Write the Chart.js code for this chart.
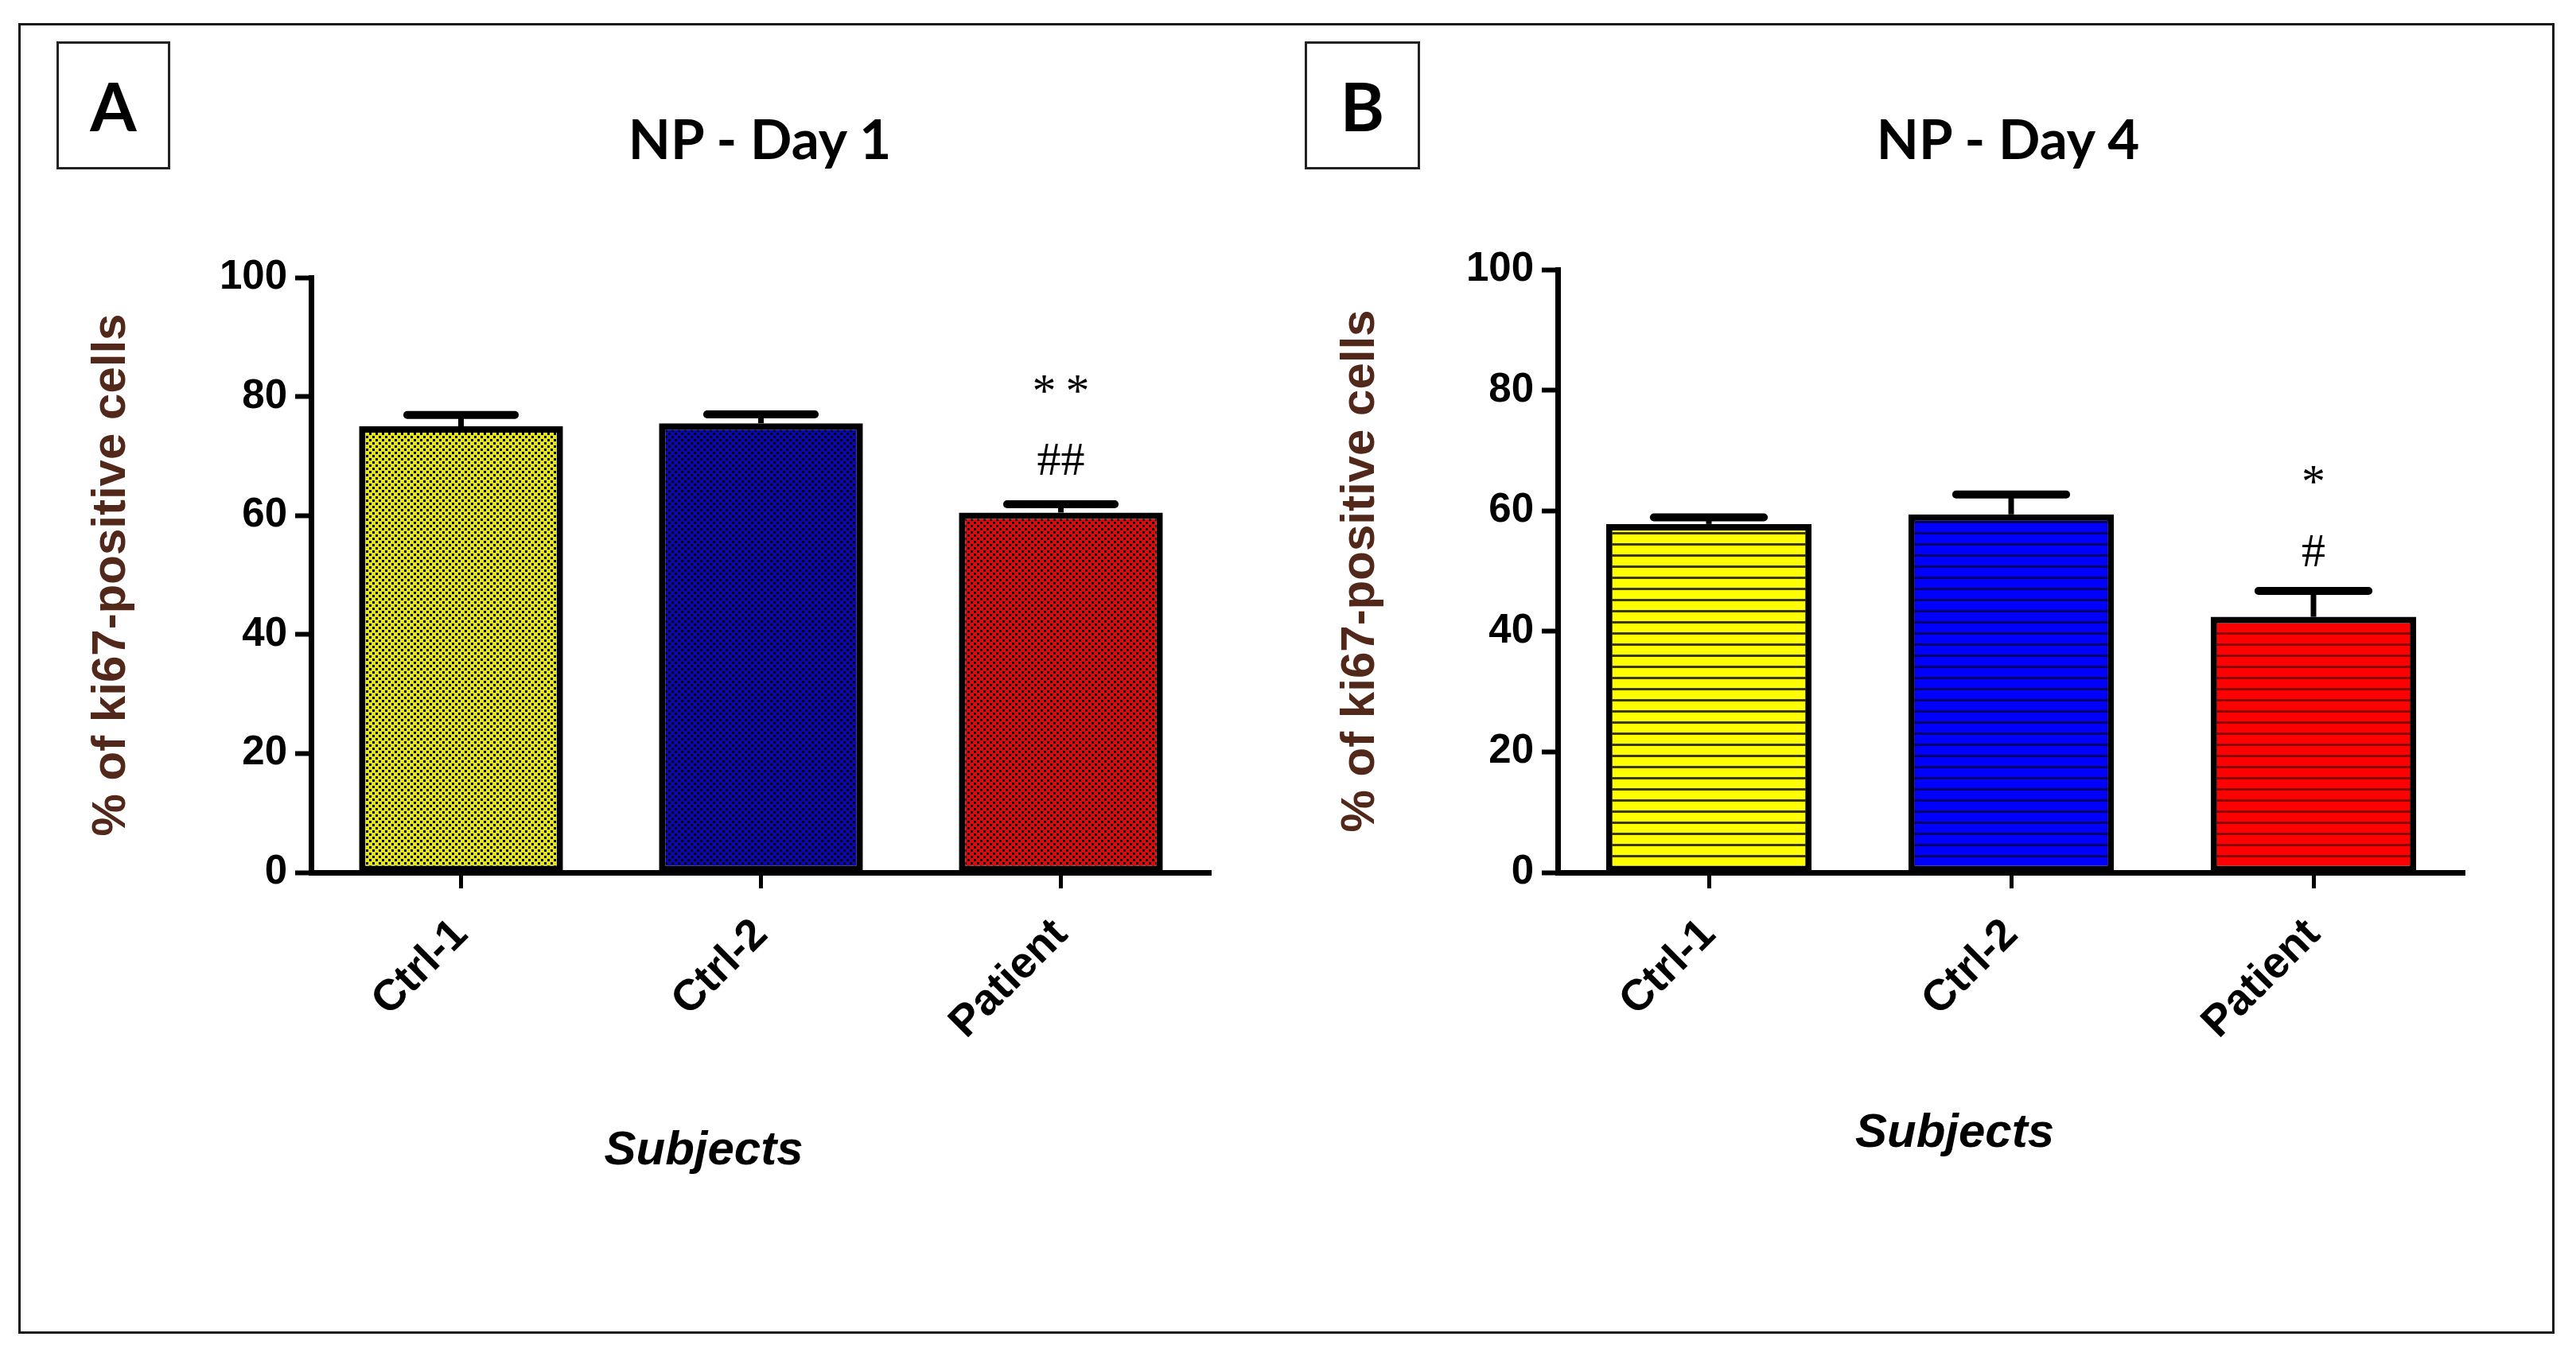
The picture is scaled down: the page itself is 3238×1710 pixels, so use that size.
<!DOCTYPE html>
<html>
<head>
<meta charset="utf-8">
<script src="https://cdn.jsdelivr.net/npm/chart.js@4.4.1/dist/chart.umd.min.js"></script>
<style>
  html, body { margin:0; padding:0; background:#fff; }
  body { width:3238px; height:1710px; position:relative; overflow:hidden; }
  #frame { position:absolute; left:23px; top:29px; width:3182px; height:1642px; border:3px solid #1a1a1a; }
  .letter { position:absolute; top:52px; height:155px; border:3px solid #222; box-sizing:content-box;
            font-family:Lato, 'Open Sans', sans-serif; font-weight:700; font-size:84px; color:#000;
            display:flex; align-items:center; justify-content:center; }
  .ptitle { position:absolute; top:173px; transform:translate(-50%,-50%); white-space:nowrap;
            font-family:Lato, 'Open Sans', sans-serif; font-weight:700; font-size:69px; line-height:1; color:#000; }
  canvas { position:absolute; top:0; }
</style>
</head>
<body>
<div id="frame"></div>
<div class="letter" style="left:71px;width:137px;">A</div>
<div class="letter" style="left:1640px;width:139px;">B</div>
<div class="ptitle" style="left:955px;">NP - Day 1</div>
<div class="ptitle" style="left:2524px;">NP - Day 4</div>
<canvas id="chartA" width="1619" height="1710" style="left:0px;"></canvas>
<canvas id="chartB" width="1619" height="1710" style="left:1619px;"></canvas>
<script>
// ---------------- data ----------------
const categories = ['Ctrl-1', 'Ctrl-2', 'Patient'];
const yTickValues = [0, 20, 40, 60, 80, 100];

const day1Means = [75.0, 75.5, 60.5];
const day1Sem   = [1.9, 1.5, 1.4];
const day1StarText = ['', '', '**'];
const day1StarY    = [null, null, 82.1];
const day1HashText = ['', '', '##'];
const day1HashY    = [null, null, 69.4];

const day4Means = [57.8, 59.4, 42.4];
const day4Sem   = [1.1, 3.3, 4.3];
const day4StarText = ['', '', '*'];
const day4StarY    = [null, null, 66.0];
const day4HashText = ['', '', '#'];
const day4HashY    = [null, null, 53.4];

const yAxisTitle = '% of ki67-positive cells';
const xAxisTitle = 'Subjects';

// ---------------- patterns ----------------
function checkerPattern(color) {
  const c = document.createElement('canvas'); c.width = 8; c.height = 8;
  const g = c.getContext('2d');
  g.fillStyle = color; g.fillRect(0, 0, 8, 8);
  g.fillStyle = '#000';
  g.fillRect(0, 0, 3, 3); g.fillRect(4, 4, 3, 3);
  return g.createPattern(c, 'repeat');
}
function stripePattern(color, line) {
  const c = document.createElement('canvas'); c.width = 8; c.height = 14;
  const g = c.getContext('2d');
  g.fillStyle = color; g.fillRect(0, 0, 8, 14);
  g.fillStyle = line; g.fillRect(0, 11, 8, 3);
  return g.createPattern(c, 'repeat');
}
const fillsA = [checkerPattern('#e6e610'), checkerPattern('#0808b0'), checkerPattern('#e00808')];
const fillsB = [stripePattern('#ffff00', '#3a3a00'), stripePattern('#0000ff', '#00006a'), stripePattern('#ff0000', '#8a0000')];

// ---------------- plugin: error bars, significance marks, x title ----------------
const panelExtras = {
  id: 'panelExtras',
  afterDatasetsDraw(chart, args, o) {
    const ctx = chart.ctx;
    const meta = chart.getDatasetMeta(0);
    const ys = chart.scales.y, xs = chart.scales.x;
    const step = (xs.right - xs.left) / chart.data.labels.length;
    const vals = chart.data.datasets[0].data;
    ctx.save();
    ctx.strokeStyle = '#000';
    meta.data.forEach((el, i) => {
      const top = ys.getPixelForValue(vals[i] + o.sem[i]);
      ctx.lineCap = 'butt'; ctx.lineWidth = 7;
      ctx.beginPath(); ctx.moveTo(el.x, el.y); ctx.lineTo(el.x, top); ctx.stroke();
      ctx.lineCap = 'round'; ctx.lineWidth = 10;
      const half = step * o.capRatio / 2;
      ctx.beginPath(); ctx.moveTo(el.x - half + 5, top); ctx.lineTo(el.x + half - 5, top); ctx.stroke();
    });
    ctx.fillStyle = '#000';
    ctx.textAlign = 'center'; ctx.textBaseline = 'alphabetic';
    ctx.font = '60px "Liberation Serif", "DejaVu Serif", serif';
    const marks = [[o.starText, o.starY, '12px'], [o.hashText, o.hashY, '0px']];
    marks.forEach(([texts, ys2, ls]) => {
      texts.forEach((t, i) => {
        if (!t) return;
        ctx.letterSpacing = ls;
        const m = ctx.measureText(t);
        const cy = ys.getPixelForValue(ys2[i]);
        const base = cy + (m.actualBoundingBoxAscent - m.actualBoundingBoxDescent) / 2;
        ctx.fillText(t, meta.data[i].x + (ls === '0px' ? 0 : 6), base);
      });
    });
    ctx.letterSpacing = '0px';
    // x axis title
    const ca = chart.chartArea;
    ctx.font = 'italic bold 60px "Liberation Sans", Arial, sans-serif';
    ctx.textBaseline = 'middle';
    ctx.fillText(o.xTitle, (ca.left + ca.right) / 2 + o.xTitleDx, ca.bottom + o.xTitleDy);
    ctx.restore();
  }
};

function makeChart(id, means, fills, extras, pad, yWidth, yTitlePad) {
  const fam = '"Liberation Sans", Arial, sans-serif';
  return new Chart(document.getElementById(id), {
    type: 'bar',
    data: {
      labels: categories,
      datasets: [{
        data: means,
        backgroundColor: fills,
        borderColor: '#000',
        borderWidth: 8,
        borderSkipped: false,
        barPercentage: 0.68,
        categoryPercentage: 1.0
      }]
    },
    options: {
      responsive: false,
      animation: false,
      devicePixelRatio: 1,
      layout: { padding: pad },
      plugins: { legend: { display: false }, tooltip: { enabled: false }, panelExtras: extras },
      scales: {
        x: {
          grid: { display: true, drawOnChartArea: false, drawTicks: true, tickLength: 20, tickWidth: 5, tickColor: '#000', offset: false },
          border: { display: true, color: '#000', width: 7 },
          ticks: { color: '#000', font: { family: fam, size: 55, weight: 'bold' }, minRotation: 45, maxRotation: 45, padding: 26 },
          afterFit: (s) => { s.height = 613; }
        },
        y: {
          min: 0, max: 100,
          afterBuildTicks: (s) => { s.ticks = yTickValues.map(v => ({ value: v })); },
          grid: { display: true, drawOnChartArea: false, drawTicks: true, tickLength: 20, tickWidth: 6, tickColor: '#000' },
          border: { display: true, color: '#000', width: 7 },
          ticks: { color: '#000', font: { family: fam, size: 51, weight: 'bold' }, padding: 10 },
          title: { display: true, text: yAxisTitle, color: '#52281b', font: { family: fam, size: 60, weight: 'bold' }, padding: { top: yTitlePad, bottom: 0 } },
          afterFit: (s) => { s.width = yWidth; }
        }
      }
    },
    plugins: [panelExtras]
  });
}

makeChart('chartA', day1Means, fillsA,
  { sem: day1Sem, capRatio: 0.385, starText: day1StarText, starY: day1StarY, hashText: day1HashText, hashY: day1HashY,
    xTitle: xAxisTitle, xTitleDx: -72, xTitleDy: 350 },
  { left: 0, right: 97, top: 349, bottom: 0 }, 391, 104);

makeChart('chartB', day4Means, fillsB,
  { sem: day4Sem, capRatio: 0.39, starText: day4StarText, starY: day4StarY, hashText: day4HashText, hashY: day4HashY,
    xTitle: xAxisTitle, xTitleDx: -71, xTitleDy: 328 },
  { left: 0, right: 140, top: 339, bottom: 0 }, 339, 55);
</script>
</body>
</html>
